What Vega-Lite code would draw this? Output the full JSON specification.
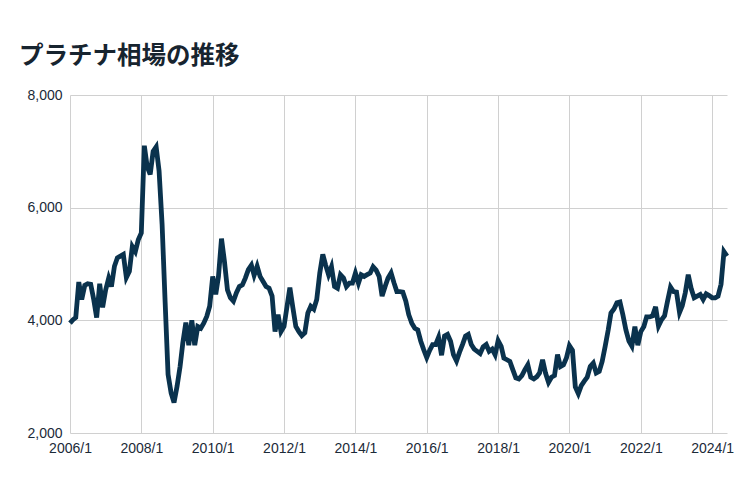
{
  "$schema": "https://vega.github.io/schema/vega-lite/v6.json",
  "width": 657,
  "height": 338,
  "autosize": "none",
  "padding": {"left": 70, "top": 95, "right": 23, "bottom": 67},
  "background": "white",
  "title": {"text": "プラチナ相場の推移", "anchor": "start", "font": "Noto Sans CJK JP", "fontSize": 24.5, "fontWeight": "bold", "color": "#17242f", "dx": -8, "offset": 19},
  "config": {"view": {"stroke": null}},
  "data": {"values": [
    {"date": "2006-01", "price": 3950}, {"date": "2006-02", "price": 4010}, {"date": "2006-03", "price": 4050}, {"date": "2006-04", "price": 4680},
    {"date": "2006-05", "price": 4370}, {"date": "2006-06", "price": 4620}, {"date": "2006-07", "price": 4650}, {"date": "2006-08", "price": 4640},
    {"date": "2006-09", "price": 4370}, {"date": "2006-10", "price": 4050}, {"date": "2006-11", "price": 4650}, {"date": "2006-12", "price": 4230},
    {"date": "2007-01", "price": 4540}, {"date": "2007-02", "price": 4750}, {"date": "2007-03", "price": 4600}, {"date": "2007-04", "price": 4960},
    {"date": "2007-05", "price": 5110}, {"date": "2007-06", "price": 5140}, {"date": "2007-07", "price": 5170}, {"date": "2007-08", "price": 4760},
    {"date": "2007-09", "price": 4870}, {"date": "2007-10", "price": 5310}, {"date": "2007-11", "price": 5220}, {"date": "2007-12", "price": 5430},
    {"date": "2008-01", "price": 5550}, {"date": "2008-02", "price": 7100}, {"date": "2008-03", "price": 6730}, {"date": "2008-04", "price": 6590},
    {"date": "2008-05", "price": 7000}, {"date": "2008-06", "price": 7080}, {"date": "2008-07", "price": 6650}, {"date": "2008-08", "price": 5700},
    {"date": "2008-09", "price": 4320}, {"date": "2008-10", "price": 3040}, {"date": "2008-11", "price": 2710}, {"date": "2008-12", "price": 2540},
    {"date": "2009-01", "price": 2830}, {"date": "2009-02", "price": 3180}, {"date": "2009-03", "price": 3600}, {"date": "2009-04", "price": 3960},
    {"date": "2009-05", "price": 3560}, {"date": "2009-06", "price": 4000}, {"date": "2009-07", "price": 3560}, {"date": "2009-08", "price": 3890},
    {"date": "2009-09", "price": 3860}, {"date": "2009-10", "price": 3950}, {"date": "2009-11", "price": 4070}, {"date": "2009-12", "price": 4250},
    {"date": "2010-01", "price": 4780}, {"date": "2010-02", "price": 4460}, {"date": "2010-03", "price": 4780}, {"date": "2010-04", "price": 5450},
    {"date": "2010-05", "price": 5050}, {"date": "2010-06", "price": 4540}, {"date": "2010-07", "price": 4400}, {"date": "2010-08", "price": 4340},
    {"date": "2010-09", "price": 4490}, {"date": "2010-10", "price": 4600}, {"date": "2010-11", "price": 4630}, {"date": "2010-12", "price": 4750},
    {"date": "2011-01", "price": 4900}, {"date": "2011-02", "price": 4980}, {"date": "2011-03", "price": 4800}, {"date": "2011-04", "price": 4960},
    {"date": "2011-05", "price": 4780}, {"date": "2011-06", "price": 4690}, {"date": "2011-07", "price": 4600}, {"date": "2011-08", "price": 4570},
    {"date": "2011-09", "price": 4430}, {"date": "2011-10", "price": 3800}, {"date": "2011-11", "price": 4100}, {"date": "2011-12", "price": 3800},
    {"date": "2012-01", "price": 3890}, {"date": "2012-02", "price": 4250}, {"date": "2012-03", "price": 4580}, {"date": "2012-04", "price": 4220},
    {"date": "2012-05", "price": 3890}, {"date": "2012-06", "price": 3800}, {"date": "2012-07", "price": 3730}, {"date": "2012-08", "price": 3780},
    {"date": "2012-09", "price": 4130}, {"date": "2012-10", "price": 4250}, {"date": "2012-11", "price": 4200}, {"date": "2012-12", "price": 4370},
    {"date": "2013-01", "price": 4840}, {"date": "2013-02", "price": 5170}, {"date": "2013-03", "price": 4990}, {"date": "2013-04", "price": 4810},
    {"date": "2013-05", "price": 4950}, {"date": "2013-06", "price": 4600}, {"date": "2013-07", "price": 4570}, {"date": "2013-08", "price": 4810},
    {"date": "2013-09", "price": 4750}, {"date": "2013-10", "price": 4600}, {"date": "2013-11", "price": 4660}, {"date": "2013-12", "price": 4660},
    {"date": "2014-01", "price": 4840}, {"date": "2014-02", "price": 4660}, {"date": "2014-03", "price": 4810}, {"date": "2014-04", "price": 4780},
    {"date": "2014-05", "price": 4810}, {"date": "2014-06", "price": 4840}, {"date": "2014-07", "price": 4950}, {"date": "2014-08", "price": 4890},
    {"date": "2014-09", "price": 4780}, {"date": "2014-10", "price": 4430}, {"date": "2014-11", "price": 4600}, {"date": "2014-12", "price": 4750},
    {"date": "2015-01", "price": 4840}, {"date": "2015-02", "price": 4660}, {"date": "2015-03", "price": 4510}, {"date": "2015-04", "price": 4510},
    {"date": "2015-05", "price": 4500}, {"date": "2015-06", "price": 4340}, {"date": "2015-07", "price": 4100}, {"date": "2015-08", "price": 3950},
    {"date": "2015-09", "price": 3860}, {"date": "2015-10", "price": 3830}, {"date": "2015-11", "price": 3630}, {"date": "2015-12", "price": 3480},
    {"date": "2016-01", "price": 3340}, {"date": "2016-02", "price": 3470}, {"date": "2016-03", "price": 3570}, {"date": "2016-04", "price": 3570},
    {"date": "2016-05", "price": 3700}, {"date": "2016-06", "price": 3380}, {"date": "2016-07", "price": 3720}, {"date": "2016-08", "price": 3750},
    {"date": "2016-09", "price": 3630}, {"date": "2016-10", "price": 3390}, {"date": "2016-11", "price": 3280}, {"date": "2016-12", "price": 3430},
    {"date": "2017-01", "price": 3570}, {"date": "2017-02", "price": 3720}, {"date": "2017-03", "price": 3750}, {"date": "2017-04", "price": 3570},
    {"date": "2017-05", "price": 3490}, {"date": "2017-06", "price": 3450}, {"date": "2017-07", "price": 3410}, {"date": "2017-08", "price": 3530},
    {"date": "2017-09", "price": 3570}, {"date": "2017-10", "price": 3450}, {"date": "2017-11", "price": 3490}, {"date": "2017-12", "price": 3390},
    {"date": "2018-01", "price": 3640}, {"date": "2018-02", "price": 3540}, {"date": "2018-03", "price": 3330}, {"date": "2018-04", "price": 3300},
    {"date": "2018-05", "price": 3270}, {"date": "2018-06", "price": 3120}, {"date": "2018-07", "price": 2980}, {"date": "2018-08", "price": 2960},
    {"date": "2018-09", "price": 3020}, {"date": "2018-10", "price": 3120}, {"date": "2018-11", "price": 3210}, {"date": "2018-12", "price": 2990},
    {"date": "2019-01", "price": 2960}, {"date": "2019-02", "price": 3000}, {"date": "2019-03", "price": 3065}, {"date": "2019-04", "price": 3300},
    {"date": "2019-05", "price": 3065}, {"date": "2019-06", "price": 2900}, {"date": "2019-07", "price": 2990}, {"date": "2019-08", "price": 3020},
    {"date": "2019-09", "price": 3390}, {"date": "2019-10", "price": 3180}, {"date": "2019-11", "price": 3210}, {"date": "2019-12", "price": 3330},
    {"date": "2020-01", "price": 3550}, {"date": "2020-02", "price": 3470}, {"date": "2020-03", "price": 2820}, {"date": "2020-04", "price": 2700},
    {"date": "2020-05", "price": 2840}, {"date": "2020-06", "price": 2920}, {"date": "2020-07", "price": 2990}, {"date": "2020-08", "price": 3180},
    {"date": "2020-09", "price": 3240}, {"date": "2020-10", "price": 3065}, {"date": "2020-11", "price": 3095}, {"date": "2020-12", "price": 3270},
    {"date": "2021-01", "price": 3540}, {"date": "2021-02", "price": 3830}, {"date": "2021-03", "price": 4130}, {"date": "2021-04", "price": 4200},
    {"date": "2021-05", "price": 4310}, {"date": "2021-06", "price": 4325}, {"date": "2021-07", "price": 4100}, {"date": "2021-08", "price": 3830},
    {"date": "2021-09", "price": 3630}, {"date": "2021-10", "price": 3540}, {"date": "2021-11", "price": 3890}, {"date": "2021-12", "price": 3560},
    {"date": "2022-01", "price": 3800}, {"date": "2022-02", "price": 3890}, {"date": "2022-03", "price": 4060}, {"date": "2022-04", "price": 4060},
    {"date": "2022-05", "price": 4080}, {"date": "2022-06", "price": 4240}, {"date": "2022-07", "price": 3900}, {"date": "2022-08", "price": 4010},
    {"date": "2022-09", "price": 4080}, {"date": "2022-10", "price": 4340}, {"date": "2022-11", "price": 4590}, {"date": "2022-12", "price": 4510},
    {"date": "2023-01", "price": 4500}, {"date": "2023-02", "price": 4140}, {"date": "2023-03", "price": 4260}, {"date": "2023-04", "price": 4490},
    {"date": "2023-05", "price": 4810}, {"date": "2023-06", "price": 4560}, {"date": "2023-07", "price": 4400}, {"date": "2023-08", "price": 4430},
    {"date": "2023-09", "price": 4460}, {"date": "2023-10", "price": 4370}, {"date": "2023-11", "price": 4470}, {"date": "2023-12", "price": 4440},
    {"date": "2024-01", "price": 4400}, {"date": "2024-02", "price": 4400}, {"date": "2024-03", "price": 4430}, {"date": "2024-04", "price": 4640},
    {"date": "2024-05", "price": 5220}, {"date": "2024-06", "price": 5140}
  ]},
  "mark": {"type": "line", "color": "#0a324d", "strokeWidth": 4.8, "strokeJoin": "miter", "clip": false},
  "encoding": {
    "x": {
      "field": "date", "type": "temporal",
      "scale": {"type": "utc", "domain": [{"year": 2006, "month": 1, "date": 1, "utc": true}, {"year": 2024, "month": 6, "date": 1, "utc": true}]},
      "axis": {
        "title": null, "format": "%Y/%-m", "labelAngle": 0, "labelOverlap": false, "labelAlign": "center", "labelFlush": false,
        "values": [
          {"year": 2006, "month": 1, "date": 1, "utc": true}, {"year": 2008, "month": 1, "date": 1, "utc": true},
          {"year": 2010, "month": 1, "date": 1, "utc": true}, {"year": 2012, "month": 1, "date": 1, "utc": true},
          {"year": 2014, "month": 1, "date": 1, "utc": true}, {"year": 2016, "month": 1, "date": 1, "utc": true},
          {"year": 2018, "month": 1, "date": 1, "utc": true}, {"year": 2020, "month": 1, "date": 1, "utc": true},
          {"year": 2022, "month": 1, "date": 1, "utc": true}, {"year": 2024, "month": 1, "date": 1, "utc": true}
        ],
        "grid": true, "gridColor": "#d0d0d0", "gridWidth": 1, "domain": false, "ticks": false,
        "labelFont": "Liberation Sans", "labelFontSize": 14, "labelColor": "#1b2a38", "labelPadding": 8
      }
    },
    "y": {
      "field": "price", "type": "quantitative",
      "scale": {"domain": [2000, 8000], "nice": false, "zero": false},
      "axis": {
        "title": null, "values": [2000, 4000, 6000, 8000], "format": ",.0f",
        "grid": true, "gridColor": "#d0d0d0", "gridWidth": 1, "domain": false, "ticks": false,
        "labelFont": "Liberation Sans", "labelFontSize": 14, "labelColor": "#1b2a38", "labelPadding": 8
      }
    }
  }
}
